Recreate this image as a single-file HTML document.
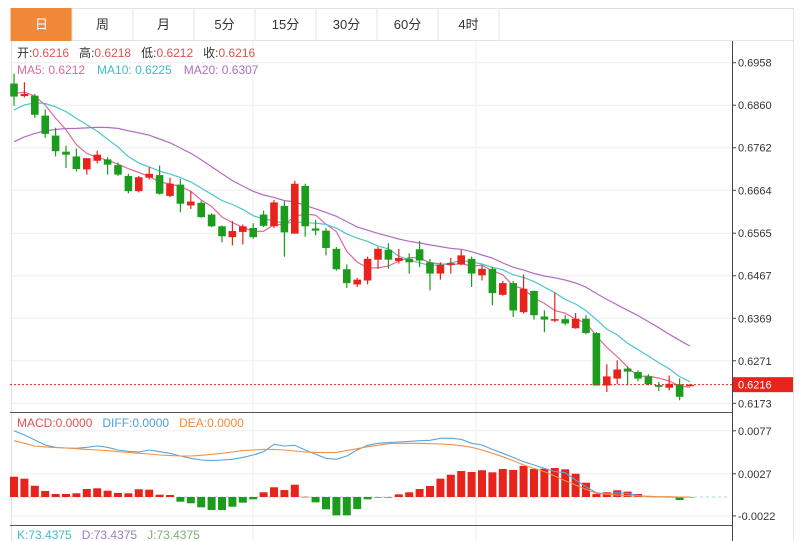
<!DOCTYPE html>
<html><head><meta charset="utf-8">
<style>
html,body{margin:0;padding:0;background:#fff;}
svg{display:block;font-family:"Liberation Sans","Noto Sans CJK SC",sans-serif;}
</style></head>
<body>
<svg id="chart" width="800" height="541" viewBox="0 0 800 541" xmlns="http://www.w3.org/2000/svg">
  <rect x="0" y="0" width="800" height="541" fill="#fff"/>
  <g id="tabs"></g>
  <g id="grid"></g>
  <g id="ma"></g>
  <g id="candles"></g>
  <g id="macd"></g>
  <g id="axes"></g>
  <g id="labels"></g>
</svg>
<script>
// ---- data ----
const tabLabels = ["日","周","月","5分","15分","30分","60分","4时"];
const priorCloses = [0.6660,0.6675,0.6680,0.6690,0.6700,0.6705,0.6715,0.6720,0.6730,0.6745,0.6770,0.6790,0.6810,0.6830,0.6857,0.6870,0.6885,0.6895,0.6905];
const opens  = [0.6910,0.6881,0.6882,0.6836,0.6790,0.6753,0.6742,0.6712,0.6732,0.6735,0.6722,0.6697,0.6662,0.6693,0.6699,0.6651,0.6677,0.6629,0.6635,0.6608,0.6581,0.6556,0.6568,0.6577,0.6608,0.6581,0.6628,0.6564,0.6674,0.6576,0.6571,0.6529,0.6482,0.6447,0.6456,0.6504,0.6527,0.6501,0.6506,0.6528,0.6498,0.6472,0.6493,0.6493,0.6506,0.6468,0.6483,0.6423,0.6450,0.6383,0.6432,0.6373,0.6364,0.6367,0.6346,0.6368,0.6335,0.6214,0.6230,0.6253,0.6245,0.6235,0.6215,0.6209,0.6217,0.6216];
const closes = [0.6880,0.6886,0.6838,0.6794,0.6754,0.6746,0.6713,0.6738,0.6746,0.6723,0.6700,0.6662,0.6694,0.6702,0.6656,0.6679,0.6633,0.6638,0.6602,0.6581,0.6558,0.6570,0.6581,0.6556,0.6582,0.6636,0.6567,0.6679,0.6581,0.6571,0.6531,0.6482,0.6450,0.6458,0.6506,0.6529,0.6504,0.6508,0.6498,0.6502,0.6472,0.6492,0.6496,0.6514,0.6472,0.6483,0.6427,0.6450,0.6387,0.6437,0.6376,0.6366,0.6367,0.6357,0.6368,0.6335,0.6214,0.6235,0.6251,0.6246,0.6230,0.6217,0.6211,0.6218,0.6188,0.6216];
const highs  = [0.6933,0.6913,0.6886,0.6850,0.6808,0.6767,0.6760,0.6738,0.6755,0.6740,0.6728,0.6702,0.6697,0.6717,0.6721,0.6693,0.6690,0.6662,0.6640,0.6611,0.6583,0.6593,0.6585,0.6588,0.6617,0.6642,0.6639,0.6686,0.6679,0.6596,0.6577,0.6533,0.6493,0.6462,0.6511,0.6533,0.6542,0.6529,0.6519,0.6547,0.6506,0.6498,0.6508,0.6527,0.6511,0.6491,0.6488,0.6455,0.6455,0.6470,0.6433,0.6387,0.6429,0.6376,0.6381,0.6376,0.6337,0.6263,0.6272,0.6258,0.6249,0.6240,0.6222,0.6237,0.6230,0.6218];
const lows   = [0.6859,0.6878,0.6831,0.6785,0.6742,0.6715,0.6707,0.6700,0.6726,0.6700,0.6697,0.6657,0.6659,0.6689,0.6654,0.6648,0.6613,0.6621,0.6601,0.6579,0.6544,0.6537,0.6539,0.6552,0.6579,0.6577,0.6511,0.6564,0.6557,0.6560,0.6514,0.6479,0.6439,0.6441,0.6447,0.6483,0.6483,0.6495,0.6472,0.6487,0.6433,0.6458,0.6472,0.6491,0.6441,0.6456,0.6399,0.6421,0.6372,0.6380,0.6366,0.6337,0.6360,0.6353,0.6345,0.6332,0.6214,0.6199,0.6217,0.6214,0.6224,0.6214,0.6201,0.6203,0.6180,0.6212];
const priceTicks = [0.6958,0.6860,0.6762,0.6664,0.6565,0.6467,0.6369,0.6271,0.6173];
const maLegendValues = [0.6212,0.6225,0.6307];
// MACD values in units of 1e-4
const histE4 = [23.6,21.3,13.1,7.0,3.5,3.5,4.3,9.3,10.1,7.3,4.7,4.3,9.0,8.5,2.7,2.3,-5.5,-7.3,-12.0,-15.1,-15.1,-11.3,-6.6,-2.7,5.5,11.3,8.1,14.3,0.3,-6.2,-14.3,-21.3,-21.3,-14.0,-2.7,0,0,3.1,5.5,9.3,12.8,21.3,25.9,30.2,29.1,31.1,28.7,32.6,31.4,36.1,32.6,32.9,33.7,32.2,27.1,16.6,3.5,5.5,7.8,6.2,3.5,1.2,0.3,-0.3,-3.5,-0.6];
const diffE4 = [77.1,72.1,66.3,60.5,57.8,57.0,56.6,57.8,59.3,57.8,54.7,53.1,52.3,54.7,52.7,50.8,47.7,45.0,43.0,42.3,43.0,43.8,46.1,48.8,52.7,61.3,59.3,60.1,54.7,49.6,45.0,43.8,47.7,54.7,60.1,62.4,63.2,64.0,64.7,65.5,65.9,68.2,68.2,67.1,62.4,60.5,55.4,50.8,46.1,41.1,37.2,33.3,29.5,28.3,19.8,12.0,5.0,3.5,5.0,3.9,1.9,0.4,0,0,-0.4,0];
const deaE4 = [65.5,62.4,59.3,58.2,57.4,57.0,56.2,55.4,54.7,53.9,52.7,51.9,50.8,50.0,48.8,48.1,47.7,47.7,48.5,49.6,50.8,52.3,53.9,54.7,55.4,55.4,54.7,53.5,52.3,51.9,51.6,51.9,53.9,56.2,58.5,60.1,62.0,62.4,62.4,62.4,62.0,61.6,60.9,59.7,57.8,54.7,50.8,46.9,42.3,37.2,33.3,29.5,24.4,19.0,14.0,8.9,4.3,3.1,2.3,1.5,1.2,0.8,0.4,0.4,0,0];
const macdTicks = [0.0077,0.0027,-0.0022];

// ---- axes ----
const NS="http://www.w3.org/2000/svg";
const xOf = i => 14 + i*10.4;
const yP = p => 62.7 + (0.6958 - p)*4339;
const yM = v => 497 - v*8600;
const yME4 = e => yM(e/10000);
const RED="#e8231b", GREEN="#1c9c1c";
function mk(tag, attrs, parent){const e=document.createElementNS(NS,tag);for(const k in attrs)e.setAttribute(k,attrs[k]);parent.appendChild(e);return e;}
const gTabs=document.getElementById('tabs'),gGrid=document.getElementById('grid'),gMa=document.getElementById('ma'),
gC=document.getElementById('candles'),gM=document.getElementById('macd'),gAx=document.getElementById('axes'),gL=document.getElementById('labels');

// tabs
mk('line',{x1:11,y1:8.5,x2:793,y2:8.5,stroke:'#ddd'},gTabs);
mk('line',{x1:11,y1:40.5,x2:793,y2:40.5,stroke:'#e6e6e6'},gTabs);
mk('line',{x1:793.5,y1:8,x2:793.5,y2:541,stroke:'#e6e6e6'},gTabs);
tabLabels.forEach((t,i)=>{
  const x=11+i*61;
  const r=mk('rect',{x:x,y:8.5,width:61,height:32,fill:i===0?'#f0883a':'#fff',stroke:i===0?'#f0883a':'#e3e3e3'},gTabs);
  
  
  const tx=mk('text',{x:x+30.5,y:29,'text-anchor':'middle','font-size':13,fill:i===0?'#fff':'#333'},gTabs);
  tx.textContent=t;
  
  
});

// grid
priceTicks.forEach(p=>{mk('line',{x1:10,y1:yP(p),x2:732,y2:yP(p),stroke:'#eeeeee'},gGrid);});
macdTicks.forEach(v=>{mk('line',{x1:10,y1:yM(v),x2:732,y2:yM(v),stroke:'#eeeeee'},gGrid);});
[253,476].forEach(x=>mk('line',{x1:x,y1:41,x2:x,y2:541,stroke:'#eeeeee'},gGrid));
mk('line',{x1:11.5,y1:41,x2:11.5,y2:541,stroke:'#e0e0e0'},gGrid);

// MA lines
const allCloses = priorCloses.concat(closes);
const off = priorCloses.length;
function maSeries(n){const out=[];for(let i=0;i<closes.length;i++){let s=0;for(let k=0;k<n;k++)s+=allCloses[off+i-k];out.push(s/n);}return out;}
const maDefs=[[5,'#e0699a','ma5-line'],[10,'#4fc3cb','ma10-line'],[20,'#b36cc4','ma20-line']];
maDefs.forEach(([n,c,name])=>{
  const m=maSeries(n);
  const pts=m.map((v,i)=>xOf(i).toFixed(1)+','+yP(v).toFixed(1)).join(' ');
  const pl=mk('polyline',{points:pts,fill:'none',stroke:c,'stroke-width':1.2},gMa);
  
  
});

// candles
opens.forEach((o,i)=>{
  const c=closes[i],up=c>=o,col=up?RED:GREEN,x=xOf(i);
  const g=mk('g',{},gC);
  
  
  mk('line',{x1:x,y1:yP(highs[i]),x2:x,y2:yP(lows[i]),stroke:col,'stroke-width':1.2},g);
  const t=Math.min(yP(o),yP(c)),h=Math.max(1.6,Math.abs(yP(o)-yP(c)));
  mk('rect',{x:x-3.8,y:t,width:7.6,height:h,fill:col},g);
});
// last price line
const lastP=closes[closes.length-1];
mk('line',{x1:10,y1:yP(lastP),x2:732,y2:yP(lastP),stroke:'#e8231b','stroke-dasharray':'2,2','stroke-width':1},gC);

// MACD panel
mk('line',{x1:10,y1:yM(0),x2:728,y2:yM(0),stroke:'#a8d4e0','stroke-dasharray':'3,3'},gM);
histE4.forEach((v,i)=>{
  const y0=yM(0),y1=yME4(v);
  const r=mk('rect',{x:xOf(i)-4,y:Math.min(y0,y1),width:8,height:Math.max(0.6,Math.abs(y1-y0)),fill:v>=0?RED:GREEN},gM);
  
  
});
const dl=mk('polyline',{points:diffE4.map((v,i)=>xOf(i).toFixed(1)+','+yME4(v).toFixed(1)).join(' '),fill:'none',stroke:'#5aa5dc','stroke-width':1.1},gM);


const el=mk('polyline',{points:deaE4.map((v,i)=>xOf(i).toFixed(1)+','+yME4(v).toFixed(1)).join(' '),fill:'none',stroke:'#f0914a','stroke-width':1.1},gM);



// axes
mk('line',{x1:732.5,y1:41,x2:732.5,y2:541,stroke:'#444'},gAx);
mk('line',{x1:10,y1:412.5,x2:733,y2:412.5,stroke:'#555'},gAx);
mk('line',{x1:10,y1:525.5,x2:733,y2:525.5,stroke:'#555'},gAx);
priceTicks.forEach(p=>{
  mk('line',{x1:732,y1:yP(p),x2:736,y2:yP(p),stroke:'#444'},gAx);
  const t=mk('text',{x:738,y:yP(p)+4,'font-size':11,fill:'#333'},gAx);
  t.textContent=p.toFixed(4);
  
  
});
macdTicks.forEach(v=>{
  mk('line',{x1:732,y1:yM(v),x2:736,y2:yM(v),stroke:'#444'},gAx);
  const t=mk('text',{x:738,y:yM(v)+4,'font-size':11,fill:'#333'},gAx);
  t.textContent=v.toFixed(4);
  
  
});
const tagY=yP(lastP);
const tag=mk('rect',{x:733,y:tagY-7.5,width:60,height:15,fill:'#e8231b'},gAx);


const tagT=mk('text',{x:738,y:tagY+4,'font-size':11,fill:'#fff'},gAx);
tagT.textContent=lastP.toFixed(4);

// legend text
function textRow(y,parts,name){
  const t=mk('text',{x:17,y:y,'font-size':12},gL);
  
  
  parts.forEach(([s,c,dx])=>{const sp=mk('tspan',{fill:c},t);if(dx)sp.setAttribute('dx',dx);sp.textContent=s;});
}
const n=opens.length-1;
textRow(57,[["开:","#333"],[opens[n].toFixed(4),"#e0534f"],["高:","#333",10],[highs[n].toFixed(4),"#e0534f"],["低:","#333",10],[lows[n].toFixed(4),"#e0534f"],["收:","#333",10],[closes[n].toFixed(4),"#e0534f"]],'ohlc-legend');
textRow(74,[["MA5: "+maLegendValues[0].toFixed(4),"#e0699a"],["MA10: "+maLegendValues[1].toFixed(4),"#3fbcc6",12],["MA20: "+maLegendValues[2].toFixed(4),"#b06bc0",12]],'ma-legend');
textRow(427,[["MACD:0.0000","#e0534f"],["DIFF:0.0000","#4a9fdc",10],["DEA:0.0000","#f08a3c",10]],'macd-legend');
textRow(539,[["K:73.4375","#3fbcc6"],["D:73.4375","#9a7fc0",10],["J:73.4375","#7cb070",10]],'kdj-legend');
</script>
</body></html>
